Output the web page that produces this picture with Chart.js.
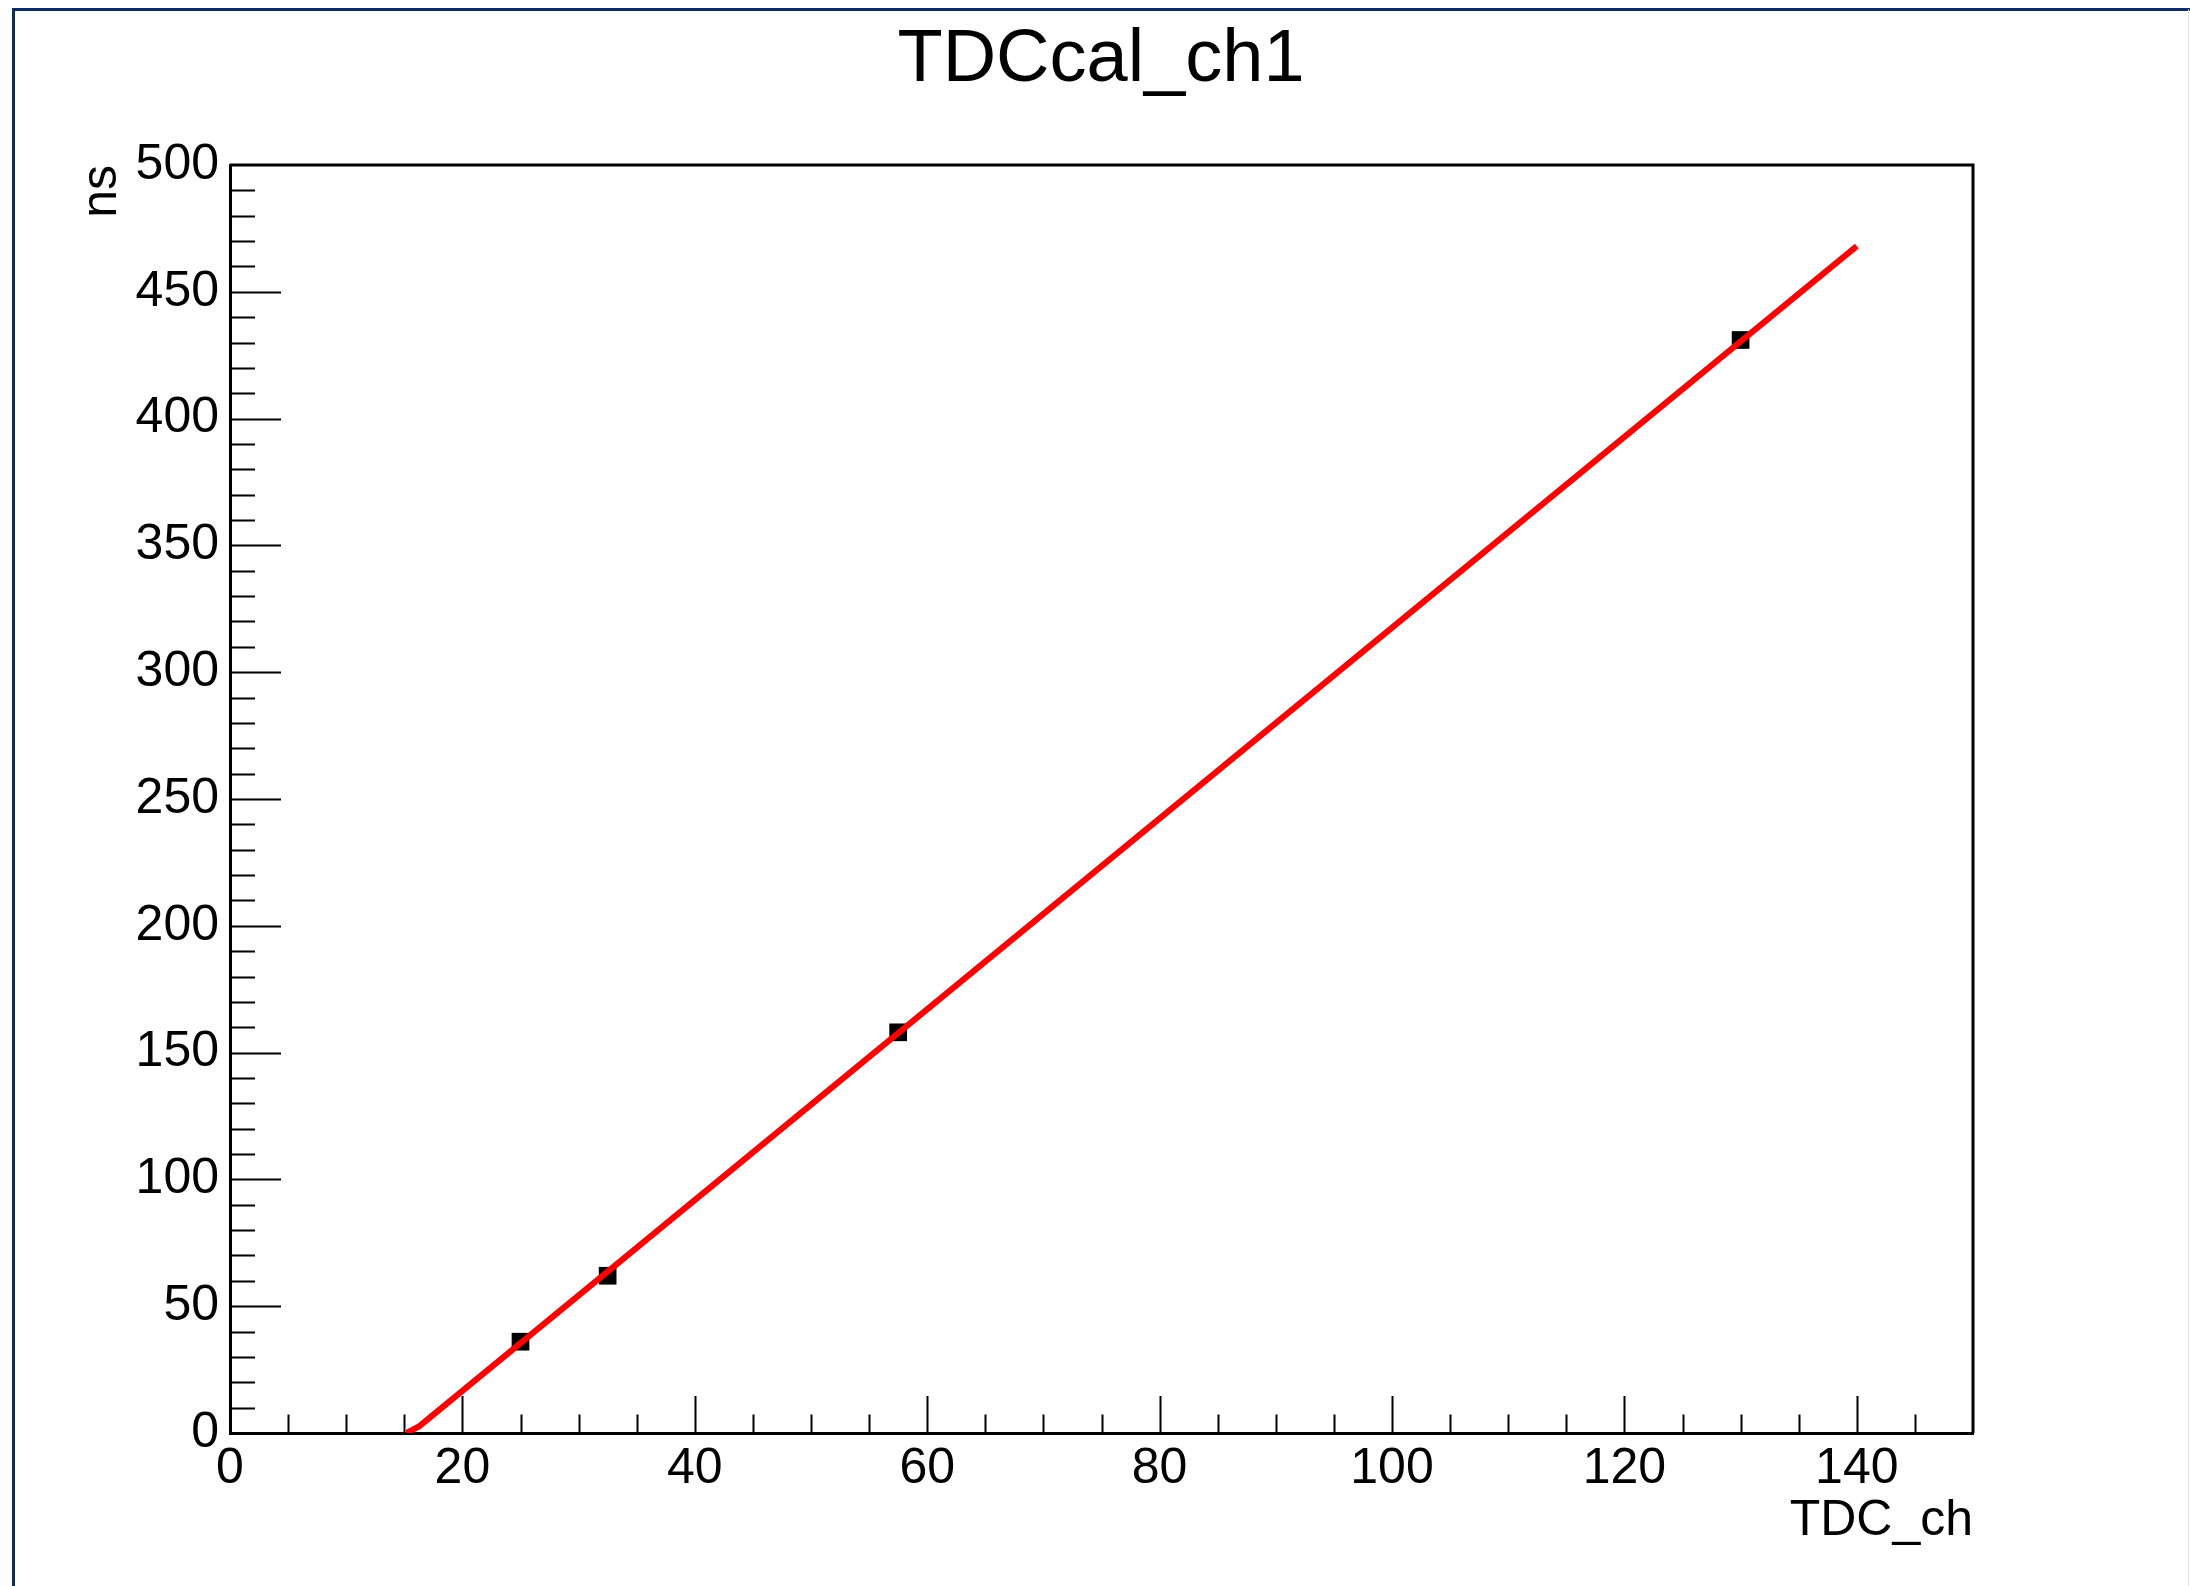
<!DOCTYPE html>
<html>
<head>
<meta charset="utf-8">
<title>TDCcal_ch1</title>
<script src="https://cdn.jsdelivr.net/npm/chart.js@4.4.1/dist/chart.umd.min.js"></script>
<style>
  html, body { margin: 0; padding: 0; background: #fff; }
  #wrap { position: relative; width: 2190px; height: 1586px; }
</style>
</head>
<body>
<div id="wrap"><canvas id="tdcChart"></canvas></div>
<script>
const TITLE = 'TDCcal_ch1';
const X_TITLE = 'TDC_ch';
const Y_TITLE = 'ns';

// calibration points (TDC channel -> ns)
const tdcChannels = [25, 32.5, 57.5, 130];
const timeNs = [36, 62, 158, 431];

// the fitted line as it is drawn (low end clipped at the x axis)
const fitChannels = [15.2, 16.3, 140];
const fitNs = [0, 2.7, 468];

const X_MIN = 0, X_MAX = 150, X_STEP = 20, X_MINOR_DIV = 4;
const Y_MIN = 0, Y_MAX = 500, Y_STEP = 50, Y_MINOR_DIV = 5;

const FONT = '"Liberation Sans", Arial, Helvetica, sans-serif';
const COLOR_FIT = '#ff0000';
const COLOR_POINTS = '#000000';
const COLOR_FRAME = '#0c2d63';

Chart.defaults.font.family = FONT;
Chart.defaults.color = '#000';

function toPoints(xs, ys) {
  return xs.map((v, i) => ({ x: v, y: ys[i] }));
}

// ROOT style: ticks drawn inside the frame, plus the pad border
const rootFrame = {
  id: 'rootFrame',
  beforeDraw(chart) {
    const c = chart.ctx;
    c.save();
    c.fillStyle = '#fff';
    c.fillRect(0, 0, chart.width, chart.height);
    c.strokeStyle = COLOR_FRAME;
    c.lineWidth = 3;
    c.beginPath();
    c.moveTo(13.5, chart.height);
    c.lineTo(13.5, 9.5);
    c.lineTo(chart.width, 9.5);
    c.stroke();
    c.strokeStyle = '#e4e4e4';
    c.lineWidth = 1;
    c.beginPath();
    c.moveTo(chart.width - 1.5, 9.5);
    c.lineTo(chart.width - 1.5, chart.height);
    c.stroke();
    c.restore();
  },
  beforeDatasetsDraw(chart) {
    const { ctx, chartArea: a, scales: { x, y } } = chart;
    ctx.save();
    ctx.strokeStyle = '#000';
    ctx.lineWidth = 2;
    ctx.beginPath();
    const xs = X_STEP / X_MINOR_DIV;
    for (let v = X_MIN + xs; v < X_MAX; v += xs) {
      const px = Math.round(x.getPixelForValue(v)) + 0.5;
      const major = Math.abs(v / X_STEP - Math.round(v / X_STEP)) < 1e-6;
      ctx.moveTo(px, a.bottom);
      ctx.lineTo(px, a.bottom - (major ? 37 : 18.5));
    }
    const ys = Y_STEP / Y_MINOR_DIV;
    for (let v = Y_MIN + ys; v < Y_MAX; v += ys) {
      const py = Math.round(y.getPixelForValue(v)) + 0.5;
      const major = Math.abs(v / Y_STEP - Math.round(v / Y_STEP)) < 1e-6;
      ctx.moveTo(a.left, py);
      ctx.lineTo(a.left + (major ? 51 : 25), py);
    }
    ctx.stroke();
    // top and right of the frame
    ctx.lineWidth = 3;
    ctx.beginPath();
    ctx.moveTo(a.left, a.top);
    ctx.lineTo(a.right, a.top);
    ctx.lineTo(a.right, a.bottom);
    ctx.stroke();
    ctx.restore();
  }
};

const tdcChart = new Chart(document.getElementById('tdcChart'), {
  type: 'scatter',
  data: {
    datasets: [
      {
        label: 'fit',
        data: toPoints(fitChannels, fitNs),
        showLine: true,
        borderColor: COLOR_FIT,
        borderWidth: 6,
        pointRadius: 0,
        order: 0
      },
      {
        label: 'TDCcal_ch1',
        data: toPoints(tdcChannels, timeNs),
        showLine: false,
        pointStyle: 'rect',
        pointRadius: 12.5,
        pointHoverRadius: 12.5,
        backgroundColor: COLOR_POINTS,
        borderWidth: 0,
        order: 1
      }
    ]
  },
  options: {
    animation: false,
    responsive: true,
    maintainAspectRatio: false,
    devicePixelRatio: 1,
    layout: { padding: { left: 12, top: 0, right: 0, bottom: 0 } },
    plugins: {
      legend: { display: false },
      tooltip: { enabled: false },
      title: {
        display: true,
        text: TITLE,
        color: '#000',
        font: { size: 74, weight: 'normal', lineHeight: 1.2 },
        padding: { top: 16, bottom: 60.2 }
      }
    },
    scales: {
      x: {
        type: 'linear',
        position: 'bottom',
        min: X_MIN,
        max: X_MAX,
        grid: { display: false, drawTicks: false },
        border: { display: true, color: '#000', width: 3 },
        ticks: {
          stepSize: X_STEP,
          includeBounds: false,
          maxRotation: 0,
          autoSkip: false,
          padding: 6,
          font: { size: 50 }
        },
        title: {
          display: true,
          text: X_TITLE,
          align: 'end',
          font: { size: 50 },
          padding: { top: 0, bottom: 35 }
        },
        afterFit(scale) { scale.height = 153; }
      },
      y: {
        type: 'linear',
        position: 'left',
        min: Y_MIN,
        max: Y_MAX,
        grid: { display: false, drawTicks: false },
        border: { display: true, color: '#000', width: 3 },
        ticks: {
          stepSize: Y_STEP,
          includeBounds: false,
          padding: 11,
          font: { size: 50 }
        },
        title: {
          display: true,
          text: Y_TITLE,
          align: 'end',
          font: { size: 50 },
          padding: { top: 60.5, bottom: 0 }
        },
        afterFit(scale) { scale.width = 218; }
      },
      yRight: {
        type: 'linear',
        position: 'right',
        display: true,
        grid: { display: false, drawTicks: false },
        border: { display: false },
        ticks: { display: false },
        afterFit(scale) { scale.width = 217; }
      }
    }
  },
  plugins: [rootFrame]
});
</script>
</body>
</html>
